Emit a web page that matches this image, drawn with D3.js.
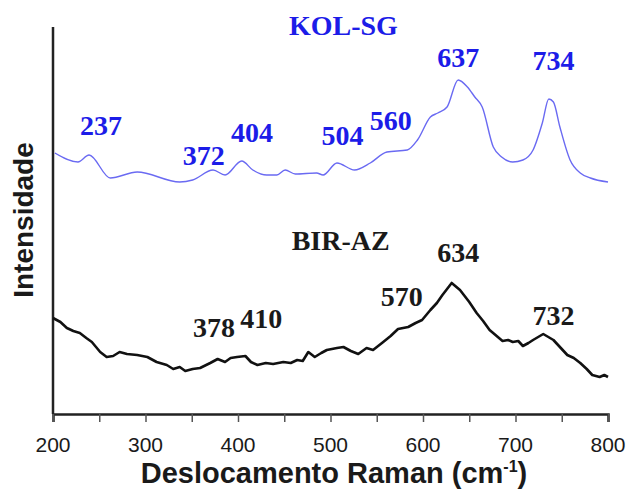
<!DOCTYPE html>
<html>
<head>
<meta charset="utf-8">
<script src="https://cdn.jsdelivr.net/npm/d3@7"></script>
<style>
  body { margin: 0; background: #fff; }
  svg { display: block; }
</style>
</head>
<body>
<svg id="chart" width="626" height="493"></svg>
<script>
// Raman shift (cm-1) and relative intensity
var kolShift = [202, 227, 239, 262, 291, 337, 351, 373, 386, 404, 416, 431, 442, 451, 462, 485, 492, 507, 526, 543, 561, 583, 594, 608, 616, 626, 638, 648, 656, 664, 676, 685, 697, 708, 719, 729, 736, 741, 748, 759, 770, 781, 800]
var kolInt   = [261, 252, 259, 236, 242, 232, 234, 244, 239, 253, 244, 239, 239, 244, 240, 241, 239, 251, 244, 251, 262, 264, 274, 297, 301, 307, 334, 327, 317, 307, 267, 257, 252, 254, 264, 291, 315, 312, 287, 254, 241, 236, 232]

var birShift = [200, 208, 215, 222, 229, 236, 242, 251, 258, 265, 272, 280, 291, 302, 312, 323, 330, 337, 343, 351, 359, 370, 378, 386, 392, 399, 408, 414, 421, 430, 438, 449, 457, 464, 470, 476, 483, 490, 496, 507, 514, 522, 530, 539, 546, 557, 565, 573, 584, 592, 599, 608, 615, 621, 631, 640, 650, 658, 665, 672, 686, 692, 697, 703, 708, 714, 719, 730, 741, 749, 756, 763, 770, 777, 783, 791, 796, 800]
var birInt   = [96, 92, 86, 83, 81, 76, 72, 62, 57, 58, 62, 60, 59, 57, 52, 49, 45, 47, 43, 45, 46, 51, 55, 52, 56, 57, 58, 52, 49, 51, 50, 52, 51, 54, 53, 62, 57, 61, 64, 66, 67, 63, 60, 66, 64, 72, 78, 85, 87, 91, 94, 104, 111, 119, 131, 124, 112, 101, 93, 84, 73, 74, 72, 73, 68, 71, 74, 80, 74, 66, 59, 56, 51, 45, 39, 37, 39, 37]

var xTicks = [200, 300, 400, 500, 600, 700, 800]
var xMinorTicks = [250, 350, 450, 550, 650, 750]

// peak annotations: text, shift (centre), intensity (baseline)
var kolLabels = ["KOL-SG", "237", "372", "404", "504", "560", "637", "734"]
var kolLabelX = [514, 252, 363, 415, 513, 565, 638, 741]
var kolLabelY = [379, 279, 249, 272, 269, 284, 347, 344]

var birLabels = ["BIR-AZ", "634", "570", "732", "378", "410"]
var birLabelX = [511, 638, 577, 741, 374, 425]
var birLabelY = [164, 152, 108, 89, 77, 86]

var svg = d3.select('#chart')

var x = d3.scaleLinear().domain([200, 800]).range([53, 608])
var y = d3.scaleLinear().domain([0, 387]).range([414, 27])

var kolData = kolShift.map(function(d, i) { return [d, kolInt[i]] })
var birData = birShift.map(function(d, i) { return [d, birInt[i]] })

// axes
svg.append('line')
  .attr('x1', x(200)).attr('x2', x(200))
  .attr('y1', y(387)).attr('y2', y(0))
  .attr('stroke', '#222').attr('stroke-width', 2.5)

var xAxis = svg.append('g')
  .attr('transform', 'translate(0,' + y(0) + ')')
  .call(d3.axisBottom(x).tickValues(xTicks.concat(xMinorTicks)).tickSize(8).tickFormat(''))
xAxis.select('.domain').attr('stroke', '#222').attr('stroke-width', 2.5)
xAxis.selectAll('.tick line').attr('stroke', '#555').attr('stroke-width', 1.5)

svg.append('g').selectAll('text')
  .data(xTicks)
  .enter()
  .append('text')
  .attr('x', function(d) { return x(d) })
  .attr('y', 452)
  .attr('text-anchor', 'middle')
  .style('font-family', '"Liberation Sans", Arial, sans-serif')
  .style('font-size', '21px')
  .attr('fill', '#1a1a1a')
  .text(function(d) { return d })

// axis titles
var xt = svg.append('text')
  .attr('x', 334)
  .attr('y', 483)
  .attr('text-anchor', 'middle')
  .style('font-family', '"Liberation Sans", Arial, sans-serif')
  .style('font-weight', 'bold')
  .style('font-size', '29px')
  .attr('fill', '#1a1a1a')
xt.append('tspan').text('Deslocamento Raman (cm')
xt.append('tspan').attr('dy', -11).style('font-size', '16px').text('-1')
xt.append('tspan').attr('dy', 11).text(')')

svg.append('text')
  .attr('transform', 'translate(33,220) rotate(-90)')
  .attr('text-anchor', 'middle')
  .style('font-family', '"Liberation Sans", Arial, sans-serif')
  .style('font-weight', 'bold')
  .style('font-size', '28px')
  .attr('fill', '#1a1a1a')
  .text('Intensidade')

// spectra
var kolLine = d3.line()
  .x(function(d) { return x(d[0]) })
  .y(function(d) { return y(d[1]) })
  .curve(d3.curveMonotoneX)

var birLine = d3.line()
  .x(function(d) { return x(d[0]) })
  .y(function(d) { return y(d[1]) })

svg.append('path')
  .datum(kolData)
  .attr('d', kolLine)
  .attr('fill', 'none')
  .attr('stroke', '#6a6af2')
  .attr('stroke-width', 1.4)

svg.append('path')
  .datum(birData)
  .attr('d', birLine)
  .attr('fill', 'none')
  .attr('stroke', '#111')
  .attr('stroke-width', 2.6)
  .attr('stroke-linejoin', 'round')

// labels
svg.append('g').selectAll('text')
  .data(kolLabels)
  .enter()
  .append('text')
  .attr('x', function(d, i) { return x(kolLabelX[i]) })
  .attr('y', function(d, i) { return y(kolLabelY[i]) })
  .attr('text-anchor', 'middle')
  .style('font-family', '"Liberation Serif", "Times New Roman", serif')
  .style('font-weight', 'bold')
  .style('font-size', '28px')
  .attr('fill', '#1c1ce8')
  .text(function(d) { return d })

svg.append('g').selectAll('text')
  .data(birLabels)
  .enter()
  .append('text')
  .attr('x', function(d, i) { return x(birLabelX[i]) })
  .attr('y', function(d, i) { return y(birLabelY[i]) })
  .attr('text-anchor', 'middle')
  .style('font-family', '"Liberation Serif", "Times New Roman", serif')
  .style('font-weight', 'bold')
  .style('font-size', '28px')
  .attr('fill', '#1a1a1a')
  .text(function(d) { return d })
</script>
</body>
</html>
